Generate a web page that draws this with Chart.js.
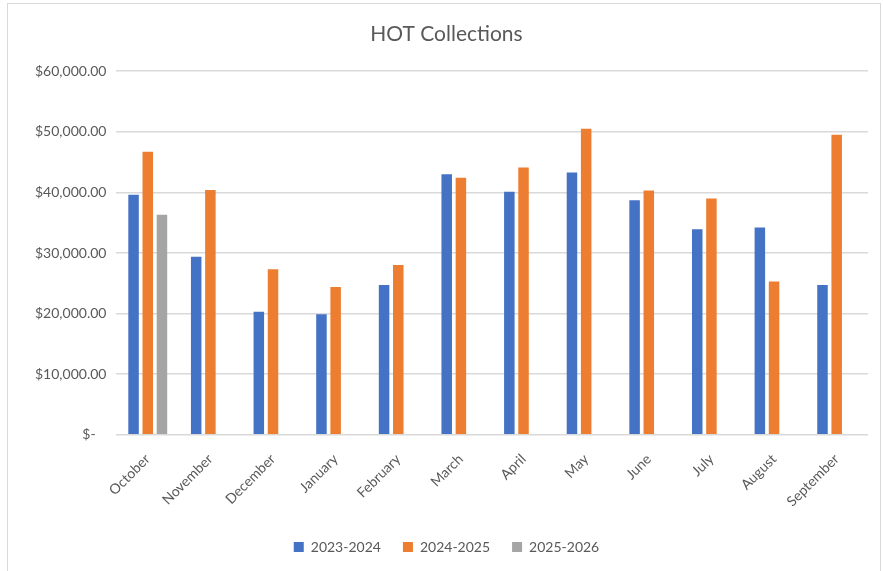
<!DOCTYPE html>
<html>
<head>
<meta charset="utf-8">
<script src="https://cdn.jsdelivr.net/npm/chart.js@4.4.1/dist/chart.umd.min.js"></script>
<style>
    body { margin: 0; background: #fff; }
    #box {
        position: absolute; left: 7px; top: 3px;
        width: 872px; height: 570px;
        border: 1px solid #d9d9d9; border-bottom: none;
    }
</style>
</head>
<body>
<div id="box"><canvas id="chart" width="872" height="568"></canvas></div>
<script>
    /*
    ** Chart data
    */
    var months = ["October", "November", "December", "January", "February", "March",
                  "April", "May", "June", "July", "August", "September"];
    var fy2324 = [39600, 29400, 20300, 19900, 24700, 43000, 40100, 43300, 38700, 33900, 34200, 24700];
    var fy2425 = [46700, 40400, 27300, 24400, 28000, 42400, 44100, 50500, 40300, 39000, 25300, 49500];
    var fy2526 = [36300, null, null, null, null, null, null, null, null, null, null, null];

    var grey = "#595959";
    var font = "Lato, 'Open Sans', sans-serif";

    function money(v) {
        if (v === 0) return "$-   ";
        return "$" + v.toLocaleString("en-US", {minimumFractionDigits: 2});
    }

    new Chart(document.getElementById("chart"), {
        type: "bar",
        data: {
            labels: months,
            datasets: [
                {label: "2023-2024", data: fy2324, backgroundColor: "#4472c4"},
                {label: "2024-2025", data: fy2425, backgroundColor: "#ed7d31"},
                {label: "2025-2026", data: fy2526, backgroundColor: "#a5a5a5"}
            ]
        },
        options: {
            responsive: false,
            animation: false,
            categoryPercentage: 0.68,
            barPercentage: 0.74,
            layout: {padding: {left: 17, right: 12, top: 10, bottom: 8}},
            plugins: {
                title: {
                    display: true,
                    text: "HOT Collections",
                    color: grey,
                    font: {family: font, size: 21, weight: "normal"},
                    padding: {top: 8, bottom: 24}
                },
                legend: {
                    position: "bottom",
                    labels: {
                        color: grey,
                        boxWidth: 10, boxHeight: 10,
                        font: {family: font, size: 14},
                        padding: 22
                    }
                },
                tooltip: {enabled: false}
            },
            scales: {
                x: {
                    grid: {display: false},
                    border: {display: false},
                    ticks: {
                        color: grey,
                        padding: 8,
                        font: {family: font, size: 14},
                        maxRotation: 45, minRotation: 45
                    }
                },
                y: {
                    min: 0, max: 60000,
                    grid: {color: "#d9d9d9", lineWidth: 1.5, drawTicks: false},
                    border: {display: false},
                    ticks: {
                        stepSize: 10000,
                        color: grey,
                        padding: 10,
                        font: {family: font, size: 14},
                        callback: function (v) { return money(v); }
                    }
                }
            }
        }
    });
</script>
</body>
</html>
